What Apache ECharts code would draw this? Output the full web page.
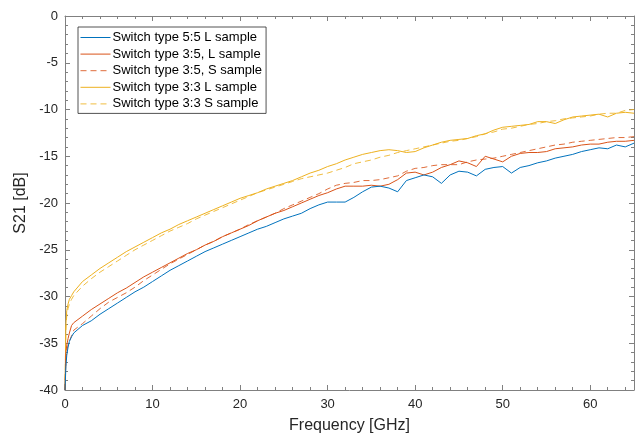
<!DOCTYPE html>
<html><head><meta charset="utf-8">
<script src="https://cdn.jsdelivr.net/npm/echarts@6/dist/echarts.min.js"></script>
<style>html,body{margin:0;padding:0;background:#fff}#c{width:641px;height:439px}</style>
</head><body><div id="c"></div>
<script>
const seriesNames = ['Switch type 5:5 L sample','Switch type 3:5, L sample','Switch type 3:5, S sample','Switch type 3:3 L sample','Switch type 3:3 S sample'];
const freq = [0,0.1,0.2,0.35,0.5,0.75,1,2,3,4,5,6,7,8,9,10,11,12,13,14,15,16,17,18,19,20,21,22,23,24,25,26,27,28,29,30,31,32,33,34,35,36,37,38,39,40,41,42,43,44,45,46,47,48,49,50,51,52,53,54,55,56,57,58,59,60,61,62,63,64,65];
const s55L = [-40,-37.5,-36.3,-35.4,-34.8,-34.3,-33.9,-33.1,-32.6,-31.9,-31.3,-30.7,-30.1,-29.5,-29.0,-28.4,-27.8,-27.2,-26.7,-26.2,-25.7,-25.2,-24.8,-24.4,-24.0,-23.6,-23.2,-22.8,-22.5,-22.1,-21.7,-21.4,-21.1,-20.6,-20.2,-19.9,-19.9,-19.9,-19.4,-18.8,-18.3,-18.2,-18.4,-18.8,-17.6,-17.3,-17.0,-17.2,-17.9,-17.0,-16.6,-16.7,-17.1,-16.4,-16.2,-16.1,-16.8,-16.2,-16.0,-15.7,-15.5,-15.2,-15.0,-14.8,-14.5,-14.3,-14.1,-14.2,-13.8,-14.0,-13.6];
const s35L = [-40,-36,-35.2,-34.5,-33.9,-33.1,-32.8,-32.1,-31.4,-30.8,-30.2,-29.6,-29.1,-28.5,-27.9,-27.4,-26.9,-26.4,-25.9,-25.4,-25.0,-24.5,-24.1,-23.6,-23.2,-22.8,-22.4,-21.9,-21.5,-21.1,-20.8,-20.4,-20.0,-19.6,-19.2,-18.9,-18.5,-18.2,-18.2,-18.2,-18.1,-18.2,-18.0,-17.5,-16.8,-16.7,-17.0,-16.7,-16.2,-15.9,-15.5,-15.7,-16.1,-15.0,-15.3,-15.6,-15.0,-14.7,-14.6,-14.6,-14.5,-14.2,-14.1,-14.0,-13.8,-13.7,-13.7,-13.5,-13.4,-13.4,-13.3];
const s35S = [-40,-37,-35.8,-35.2,-34.8,-34.2,-33.6,-32.9,-32.1,-31.3,-30.6,-30.1,-29.6,-29.0,-28.3,-27.7,-27.1,-26.5,-26.0,-25.5,-25.0,-24.5,-24.1,-23.6,-23.2,-22.8,-22.3,-21.9,-21.5,-21.1,-20.6,-20.2,-19.8,-19.4,-19.0,-18.5,-18.1,-17.9,-17.8,-17.6,-17.6,-17.5,-17.3,-17.1,-16.6,-16.3,-16.2,-16.0,-15.9,-15.9,-15.9,-15.6,-15.4,-15.3,-15.2,-15.0,-14.8,-14.6,-14.4,-14.2,-14.0,-13.8,-13.7,-13.5,-13.4,-13.3,-13.2,-13.1,-13.0,-13.0,-12.9];
const s33L = [-40,-33,-31.5,-30.8,-30.3,-29.9,-29.5,-28.4,-27.7,-27.0,-26.4,-25.8,-25.2,-24.7,-24.2,-23.7,-23.2,-22.8,-22.3,-21.9,-21.5,-21.1,-20.7,-20.3,-19.9,-19.5,-19.2,-18.9,-18.5,-18.2,-17.9,-17.6,-17.2,-16.8,-16.5,-16.1,-15.8,-15.4,-15.1,-14.8,-14.6,-14.4,-14.3,-14.4,-14.6,-14.5,-14.1,-13.8,-13.5,-13.3,-13.2,-13.1,-12.8,-12.6,-12.2,-11.9,-11.8,-11.7,-11.6,-11.3,-11.3,-11.5,-11.1,-10.8,-10.7,-10.6,-10.5,-10.8,-10.4,-10.3,-10.4];
const s33S = [-40,-33.5,-32,-31.3,-30.8,-30.3,-29.9,-28.9,-28.1,-27.4,-26.8,-26.2,-25.6,-25.0,-24.5,-24.0,-23.5,-23.0,-22.6,-22.2,-21.7,-21.3,-20.9,-20.5,-20.1,-19.7,-19.3,-18.9,-18.6,-18.3,-18.0,-17.7,-17.4,-17.2,-17.0,-16.8,-16.5,-16.2,-15.8,-15.6,-15.4,-15.1,-14.9,-14.6,-14.4,-14.2,-14.0,-13.8,-13.6,-13.4,-13.3,-13.1,-12.9,-12.6,-12.4,-12.1,-12.0,-11.8,-11.6,-11.5,-11.3,-11.2,-11.0,-10.9,-10.8,-10.7,-10.5,-10.4,-10.4,-10.1,-10.0];

const values = [s55L, s35L, s35S, s33L, s33S];
const colors = ['#0072BD','#D95319','#D95319','#EDB120','#EDB120'];
const dashed = [false,false,true,false,true];
const FONT = 'Liberation Sans, Arial, sans-serif';
const axisCol = '#262626';
const lineCol = '#808080';

function axisBase(extra){
  return Object.assign({
    type:'value',
    axisLine:{show:true,onZero:false,lineStyle:{color:lineCol,width:1}},
    axisTick:{show:true,inside:true,length:5,lineStyle:{color:lineCol}},
    minorTick:{show:true,splitNumber:5,length:3,lineStyle:{color:lineCol}},
    splitLine:{show:false},
    axisLabel:{color:axisCol,fontFamily:FONT,fontSize:13}
  }, extra);
}

const chart = echarts.init(document.getElementById('c'),null,{renderer:'canvas'});
chart.setOption({
  animation:false,
  backgroundColor:'#fff',
  grid:{left:65,right:7,top:16,bottom:47,containLabel:false},
  legend:{
    orient:'vertical', left:78, top:27,
    data:seriesNames,
    backgroundColor:'#fff', borderColor:axisCol, borderWidth:0.8,
    padding:[4,4,3,2], itemGap:3.6, itemWidth:30, itemHeight:15,
    itemStyle:{opacity:0},
    lineStyle:{width:1},
    textStyle:{color:'#000',fontFamily:FONT,fontSize:13,padding:[0,0,0,-3]}
  },
  xAxis:[
    axisBase({min:0,max:65,interval:10,position:'bottom',
      name:'Frequency [GHz]',nameLocation:'middle',nameGap:28,
      nameTextStyle:{color:axisCol,fontFamily:FONT,fontSize:16},
      axisLabel:{color:axisCol,fontFamily:FONT,fontSize:13,margin:8,showMaxLabel:false}}),
    axisBase({min:0,max:65,interval:10,position:'top',axisLabel:{show:false}})
  ],
  yAxis:[
    axisBase({min:-40,max:0,interval:5,position:'left',
      name:'S21 [dB]',nameLocation:'middle',nameGap:35,
      nameTextStyle:{color:axisCol,fontFamily:FONT,fontSize:16},
      axisLabel:{color:axisCol,fontFamily:FONT,fontSize:13,margin:7}}),
    axisBase({min:-40,max:0,interval:5,position:'right',axisLabel:{show:false}})
  ],
  series: seriesNames.map((n,i)=>({
    name:n, type:'line', xAxisIndex:0, yAxisIndex:0,
    data: freq.map((f,j)=>[f, values[i][j]]),
    symbol:'none', smooth:false,
    color:colors[i],
    lineStyle:{color:colors[i],width:1,type:dashed[i]?[6,4]:'solid',opacity:dashed[i]?0.85:1},
    z: 5-i
  }))
});
</script>
</body></html>
